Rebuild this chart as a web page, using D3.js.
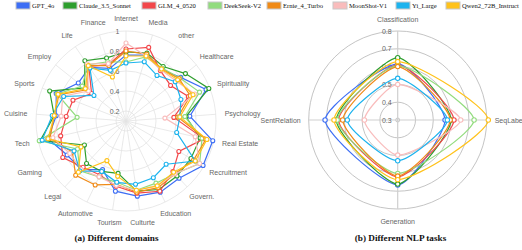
<!DOCTYPE html>
<html><head><meta charset="utf-8">
<script src="https://cdn.jsdelivr.net/npm/d3@7"></script>
<style>body{margin:0;background:#fff}svg{display:block}</style>
</head><body><svg id="c" width="522" height="250"></svg>
<script>
// ---------- data ----------
const models = ["GPT_4o","Claude_3.5_Sonnet","GLM_4_0520","DeekSeek-V2","Ernie_4_Turbo","MoonShot-V1","Yi_Large","Qwen2_72B_Instruct"];
const colors = ["#3d6ef5","#2e9e2e","#f2474a","#92dc7e","#f08a16","#f9bcbc","#1cb3ee","#ffc21a"];

const domains = ["Internet","Media","other","Healthcare","Spirituality","Psychology","Real Estate","Recruitment","Govern.","Education","Culturte","Tourism","Automotive","Legal","Gaming","Tech","Cuisine","Sports","Employ","Life","Finance"];
const domainTicks = [0.2,0.4,0.6,0.8,1];
const dGPT4o    = [0.76,0.79,0.72,0.80,0.96,0.74,0.99,0.99,0.88,0.89,0.86,0.81,0.64,0.76,0.78,0.90,0.80,0.85,0.71,0.75,0.65];
const dClaude   = [0.79,0.81,0.76,0.86,0.99,0.70,0.86,0.85,0.85,0.86,0.81,0.63,0.66,0.68,0.58,0.98,0.82,0.92,0.63,0.83,0.76];
const dGLM      = [0.82,0.87,0.71,0.67,0.77,0.58,0.90,0.71,0.79,0.88,0.83,0.76,0.70,0.73,0.83,0.77,0.70,0.67,0.54,0.76,0.69];
const dDeepSeek = [0.69,0.77,0.74,0.79,0.89,0.69,0.88,0.95,0.82,0.79,0.80,0.72,0.72,0.78,0.66,0.99,0.59,0.84,0.66,0.78,0.72];
const dErnie    = [0.80,0.80,0.73,0.78,0.79,0.62,0.92,0.88,0.82,0.84,0.82,0.74,0.81,0.84,0.72,0.88,0.82,0.82,0.60,0.77,0.68];
const dMoonShot = [0.88,0.78,0.72,0.74,0.84,0.49,0.81,0.95,0.82,0.82,0.80,0.75,0.72,0.76,0.75,0.85,0.75,0.78,0.58,0.79,0.70];
const dYi       = [0.68,0.72,0.65,0.73,0.69,0.64,0.62,0.90,0.69,0.73,0.74,0.72,0.66,0.78,0.70,0.96,0.84,0.77,0.51,0.74,0.63];
const dQwen     = [0.75,0.78,0.73,0.76,0.82,0.64,0.93,0.90,0.80,0.82,0.80,0.66,0.54,0.80,0.62,0.90,0.82,0.83,0.62,0.77,0.56];

const tasks = ["Classification","SeqLabel","Generation","SentRelation"];
const taskTicks = [0.3,0.4,0.5,0.6,0.7,0.8];
const tGPT4o    = [0.615,0.566,0.665,0.708];
const tClaude   = [0.650,0.600,0.660,0.645];
const tGLM      = [0.610,0.616,0.620,0.633];
const tDeepSeek = [0.605,0.729,0.600,0.640];
const tErnie    = [0.600,0.595,0.615,0.609];
const tMoonShot = [0.500,0.654,0.497,0.487];
const tYi       = [0.534,0.579,0.529,0.583];
const tQwen     = [0.628,0.809,0.635,0.658];

const domainSeries = [dGPT4o,dClaude,dGLM,dDeepSeek,dErnie,dMoonShot,dYi,dQwen];
const taskSeries = [tGPT4o,tClaude,tGLM,tDeepSeek,tErnie,tMoonShot,tYi,tQwen];

// ---------- drawing ----------
const svg = d3.select("#c");
const SANS = "'Liberation Sans', Arial, Helvetica, sans-serif";
const SERIF = "'Liberation Serif', 'Times New Roman', serif";

// legend
const legendX = [16,63,142,208,267,333,396,446];
const lg = svg.append("g");
models.forEach((m,i)=>{
  lg.append("rect").attr("x",legendX[i]).attr("y",2).attr("width",14).attr("height",7)
    .attr("fill",colors[i]).attr("stroke","#c8c8c8").attr("stroke-width",1);
  lg.append("text").attr("x",legendX[i]+16).attr("y",8).text(m)
    .attr("font-family",SERIF).attr("font-size",6.6).attr("fill","#111");
});

function placeLabel(g, cx, cy, R, ang, name, h){
  const ux = Math.sin(ang), uy = -Math.cos(ang);
  const t = g.append("text").text(name).attr("text-anchor","middle").attr("dominant-baseline","central")
    .attr("font-family",SANS).attr("font-size",7).attr("fill","#666");
  const w = t.node().getComputedTextLength();
  t.attr("x", cx + R*ux + w/2*ux).attr("y", cy + R*uy + h/2*uy);
}

// ---- left radar ----
(function(){
  const cx = 126, cy = 121;
  const r = d3.scaleLinear().domain([0.1,1]).range([0,90]);
  const ang = d3.scaleLinear().domain([0,domains.length]).range([0,2*Math.PI]);
  const g = svg.append("g");
  domainTicks.forEach(t=>{
    g.append("circle").attr("cx",cx).attr("cy",cy).attr("r",r(t)).attr("fill","none").attr("stroke","#e3e3e3").attr("stroke-width",0.8);
  });
  domains.forEach((d,i)=>{
    const a = ang(i);
    g.append("line").attr("x1",cx).attr("y1",cy).attr("x2",cx+r(1)*Math.sin(a)).attr("y2",cy-r(1)*Math.cos(a))
      .attr("stroke","#e3e3e3").attr("stroke-width",0.8);
    placeLabel(g,cx,cy,99,a,d,8);
  });
  domainTicks.forEach(t=>{
    g.append("text").attr("x",cx-6.5).attr("y",cy-r(t)).attr("text-anchor","end").attr("dominant-baseline","central")
      .text(d3.format("~g")(t)).attr("font-family",SANS).attr("font-size",7).attr("fill","#666");
  });
  const line = d3.lineRadial().angle((d,i)=>ang(i)).radius(d=>r(d)).curve(d3.curveLinearClosed);
  domainSeries.forEach((vals,k)=>{
    const sg = g.append("g").attr("transform",`translate(${cx},${cy})`);
    sg.append("path").attr("d",line(vals)).attr("fill","none").attr("stroke",colors[k]).attr("stroke-width",1.2);
    vals.forEach((v,i)=>{
      const a = ang(i);
      sg.append("circle").attr("cx",r(v)*Math.sin(a)).attr("cy",-r(v)*Math.cos(a)).attr("r",2)
        .attr("fill","#fff").attr("stroke",colors[k]).attr("stroke-width",1.1);
    });
  });
  svg.append("text").attr("x",116.5).attr("y",238).attr("text-anchor","middle").attr("dominant-baseline","central")
    .text("(a) Different domains").attr("font-family",SERIF).attr("font-size",9.2).attr("font-weight","bold").attr("fill","#111");
})();

// ---- right radar ----
function smoothClosed(pts, s){
  const n = pts.length, cps = [];
  for(let i=0;i<n;i++){
    const p=pts[i], prev=pts[(i-1+n)%n], next=pts[(i+1)%n];
    const vx=(next[0]-prev[0])*s, vy=(next[1]-prev[1])*s;
    let d0=Math.hypot(p[0]-prev[0],p[1]-prev[1]), d1=Math.hypot(p[0]-next[0],p[1]-next[1]);
    const sum=d0+d1; if(sum){d0/=sum; d1/=sum;}
    cps.push([[p[0]-vx*d0,p[1]-vy*d0],[p[0]+vx*d1,p[1]+vy*d1]]);
  }
  const path = d3.path(); path.moveTo(pts[0][0],pts[0][1]);
  for(let i=0;i<n;i++){
    const j=(i+1)%n;
    path.bezierCurveTo(cps[i][1][0],cps[i][1][1],cps[j][0][0],cps[j][0][1],pts[j][0],pts[j][1]);
  }
  path.closePath();
  return path.toString();
}
(function(){
  const cx = 397.7, cy = 120;
  const r = d3.scaleLinear().domain([0.3,0.8]).range([0,89]);
  const ang = d3.scaleLinear().domain([0,tasks.length]).range([0,2*Math.PI]);
  const g = svg.append("g");
  taskTicks.forEach(t=>{
    g.append("circle").attr("cx",cx).attr("cy",cy).attr("r",Math.max(r(t),2)).attr("fill","none").attr("stroke","#b5b5b5").attr("stroke-width",0.8);
  });
  tasks.forEach((d,i)=>{
    const a = ang(i);
    g.append("line").attr("x1",cx).attr("y1",cy).attr("x2",cx+r(0.8)*Math.sin(a)).attr("y2",cy-r(0.8)*Math.cos(a))
      .attr("stroke","#cfcfcf").attr("stroke-width",1.2);
    placeLabel(g,cx,cy,97,a,d,8);
  });
  taskTicks.forEach(t=>{
    g.append("text").attr("x",cx-6).attr("y",cy-r(t)).attr("text-anchor","end").attr("dominant-baseline","central")
      .text(d3.format(".1f")(t)).attr("font-family",SANS).attr("font-size",7).attr("fill","#666");
  });
  taskSeries.forEach((vals,k)=>{
    const pts = vals.map((v,i)=>[cx+r(v)*Math.sin(ang(i)), cy-r(v)*Math.cos(ang(i))]);
    g.append("path").attr("d",smoothClosed(pts,0.22)).attr("fill","none").attr("stroke",colors[k]).attr("stroke-width",1.2);
    pts.forEach(p=>{
      g.append("circle").attr("cx",p[0]).attr("cy",p[1]).attr("r",2.2)
        .attr("fill","#fff").attr("stroke",colors[k]).attr("stroke-width",1.1);
    });
  });
  svg.append("text").attr("x",400.5).attr("y",238).attr("text-anchor","middle").attr("dominant-baseline","central")
    .text("(b) Different NLP tasks").attr("font-family",SERIF).attr("font-size",9.2).attr("font-weight","bold").attr("fill","#111");
})();
</script></body></html>
